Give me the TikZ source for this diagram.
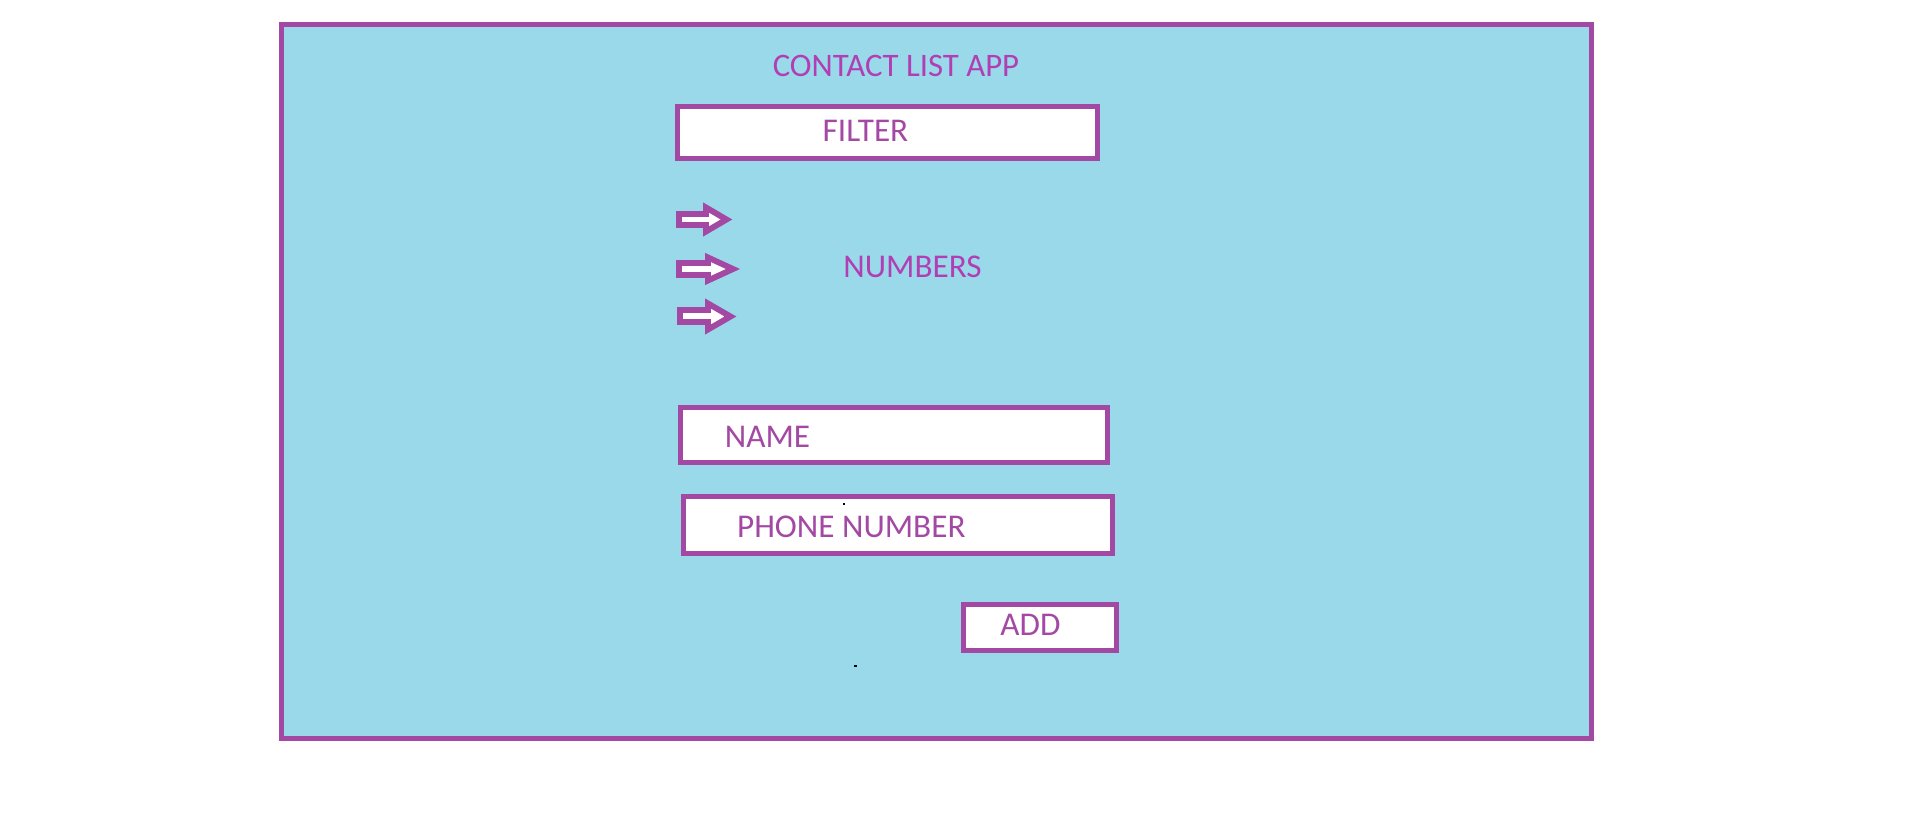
\documentclass[tikz,border=0pt]{standalone}
\usepackage{fontspec}
\setmainfont{Carlito}
\definecolor{paintpurple}{RGB}{163,73,164}
\definecolor{titlepurple}{RGB}{178,62,180}
\definecolor{paintblue}{RGB}{153,217,234}
\begin{document}
\begin{tikzpicture}[x=0.75pt,y=-0.75pt,
  frame/.style={draw=paintpurple,line width=3.75pt,fill=paintblue,inner sep=0pt,outer sep=0pt},
  fieldbox/.style={draw=paintpurple,line width=3.75pt,fill=white,inner sep=0pt,outer sep=0pt},
  label/.style={text=paintpurple,inner sep=0pt,anchor=base,font=\fontsize{24.9pt}{30pt}\selectfont},
  titlelabel/.style={text=titlepurple,inner sep=0pt,anchor=base,font=\fontsize{24.6pt}{30pt}\selectfont},
  pointer/.style={draw=paintpurple,line width=4.4pt,fill=white,line join=miter,miter limit=10},
  speck/.style={fill=black}]
\useasboundingbox (0,0) rectangle (1914,816);
\node[frame,minimum width=1310*0.75pt,minimum height=714*0.75pt] (app) at (936.5,381.5) {};
\node[titlelabel] (title) at (896,76.7) {CONTACT LIST APP};
\node[fieldbox,minimum width=420*0.75pt,minimum height=52.5*0.75pt] (filterbox) at (887.5,132.75) {};
\node[label] (filter) at (865.5,141.7) {FILTER};
\draw[pointer] (679,214) -- (706,214) -- (706,207.5) -- (726.5,219.5) -- (706,231.5) -- (706,225) -- (679,225) -- cycle;
\draw[pointer] (679,263) -- (708,263) -- (708,257.5) -- (733,269) -- (708,280.5) -- (708,275) -- (679,275) -- cycle;
\draw[pointer] (680,310) -- (708,310) -- (708,303.5) -- (730.5,316.5) -- (708,329.5) -- (708,322) -- (680,322) -- cycle;
\node[label,text=titlepurple] (numbers) at (912.5,277.7) {NUMBERS};
\node[fieldbox,minimum width=427*0.75pt,minimum height=55*0.75pt] (namebox) at (894,435) {};
\node[label] (name) at (767.5,447.3) {NAME};
\node[fieldbox,minimum width=429*0.75pt,minimum height=56.5*0.75pt] (phonebox) at (898,524.75) {};
\node[label] (phone) at (851.3,537.7) {PHONE NUMBER};
\node[fieldbox,minimum width=153*0.75pt,minimum height=46*0.75pt] (addbox) at (1040,627.5) {};
\node[label] (add) at (1030.5,635) {ADD};
\fill[speck] (843,503) rectangle (845,505);
\fill[speck] (854,664.5) rectangle (856.5,667);
\end{tikzpicture}
\end{document}
